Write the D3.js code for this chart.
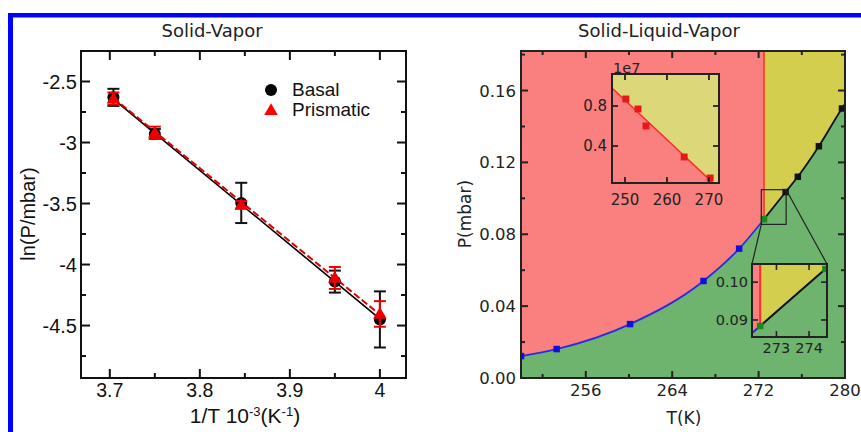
<!DOCTYPE html>
<html><head><meta charset="utf-8">
<script src="https://cdn.jsdelivr.net/npm/d3@7"></script>
<style>
html,body{margin:0;padding:0;background:#fff;}
svg{display:block;}
</style></head>
<body>
<svg id="c" width="861" height="432"></svg>
<script>
// ---------- Left panel data (Solid-Vapor) ----------
const invT = [3.704, 3.75, 3.846, 3.95, 4.0];
const basalLnP = [-2.63, -2.93, -3.495, -4.14, -4.45];
const basalErr = [0.07, 0.04, 0.165, 0.09, 0.23];
const prisLnP = [-2.64, -2.92, -3.51, -4.11, -4.405];
const prisErr = [0.05, 0.05, 0.03, 0.09, 0.105];
const basalFit = [[3.704, -2.645], [4.0, -4.445]];
const prisFit = [[3.704, -2.635], [4.0, -4.41]];
const leftXTicks = [3.7, 3.8, 3.9, 4];
const leftXMinor = [3.75, 3.85, 3.95];
const leftYTicks = [-2.5, -3, -3.5, -4, -4.5];
const leftYMinor = [-2.75, -3.25, -3.75, -4.25, -4.75];
const legendLabels = ["Basal", "Prismatic"];

// ---------- Right panel data (Solid-Liquid-Vapor) ----------
const svT = [250, 253.3, 260.1, 266.9, 270.2];
const svP = [0.0122, 0.0161, 0.030, 0.054, 0.072];
const tripleT = 272.5, tripleP = 0.0884;
const lvT = [274.5, 275.63, 277.58, 279.72];
const lvP = [0.1035, 0.112, 0.129, 0.150];
const lvEdge = [280, 0.1525];
const rightXTicks = [256, 264, 272, 280];
const rightXMinor = [252, 260, 268, 276];
const rightYTicks = [0, 0.04, 0.08, 0.12, 0.16];
const rightYMinor = [0.02, 0.06, 0.10, 0.14, 0.18];
// upper inset (solid-liquid, x1e7)
const slT = [250.2, 253.1, 255.0, 264.1, 270.3];
const slP = [0.87, 0.77, 0.60, 0.29, 0.08];
const slFit = [[246.9, 0.98], [271.0, 0.03]];
const insetXTicks = [250, 260, 270];
const insetYTicks = [0.4, 0.8];
// lower inset (zoom near triple point)
const zoomXTicks = [273, 274];
const zoomYTicks = [0.09, 0.10];

const svg = d3.select("#c");
const C = {red: "rgb(250,128,128)", yellow: "rgb(212,206,78)", yellowL: "rgb(220,216,122)",
  green: "rgb(110,180,110)", blue: "#2a2ae6", redLine: "#ff2a2a"};

// Blue frame
svg.append("rect").attr("x", 8).attr("y", 13).attr("width", 853).attr("height", 4.5).attr("fill", "#0000ff");
svg.append("rect").attr("x", 8).attr("y", 13).attr("width", 5).attr("height", 419).attr("fill", "#0000ff");

// ================= LEFT PANEL =================
const xL = d3.scaleLinear().domain([3.668, 4.029]).range([81, 406]);
const yL = d3.scaleLinear().domain([-4.93, -2.25]).range([378, 51]);
const L = svg.append("g");
const fontL = "'Liberation Sans', Arial, sans-serif";
const fontR = "'DejaVu Sans', sans-serif";

L.append("text").attr("x", 212).attr("y", 37).attr("text-anchor", "middle")
  .attr("font-family", fontR).attr("font-size", 18).attr("fill", "#222").text("Solid-Vapor");

function tickMarks(g, xs, ys, sx, sy, x0, x1, y0, y1, len, color, width) {
  xs.forEach(v => {
    g.append("line").attr("x1", sx(v)).attr("x2", sx(v)).attr("y1", y1).attr("y2", y1 - len).attr("stroke", color).attr("stroke-width", width);
    g.append("line").attr("x1", sx(v)).attr("x2", sx(v)).attr("y1", y0).attr("y2", y0 + len).attr("stroke", color).attr("stroke-width", width);
  });
  ys.forEach(v => {
    g.append("line").attr("y1", sy(v)).attr("y2", sy(v)).attr("x1", x0).attr("x2", x0 + len).attr("stroke", color).attr("stroke-width", width);
    g.append("line").attr("y1", sy(v)).attr("y2", sy(v)).attr("x1", x1).attr("x2", x1 - len).attr("stroke", color).attr("stroke-width", width);
  });
}
tickMarks(L, leftXTicks, leftYTicks, xL, yL, 81, 406, 51, 378, 9, "#111", 2);
tickMarks(L, leftXMinor, leftYMinor, xL, yL, 81, 406, 51, 378, 5, "#111", 2);

L.selectAll(".lxt").data(leftXTicks).join("text").attr("x", d => xL(d)).attr("y", 397)
  .attr("text-anchor", "middle").attr("font-family", fontL).attr("font-size", 19.5).attr("fill", "#111").text(d => d);
L.selectAll(".lyt").data(leftYTicks).join("text").attr("x", 77).attr("y", d => yL(d) + 7)
  .attr("text-anchor", "end").attr("font-family", fontL).attr("font-size", 20).attr("fill", "#111").text(d => d);

const xlab = L.append("text").attr("x", 245).attr("y", 423).attr("text-anchor", "middle")
  .attr("font-family", fontL).attr("font-size", 21).attr("fill", "#111");
xlab.append("tspan").text("1/T 10");
xlab.append("tspan").attr("dy", -7).attr("font-size", 13).text("-3");
xlab.append("tspan").attr("dy", 7).text("(K");
xlab.append("tspan").attr("dy", -7).attr("font-size", 13).text("-1");
xlab.append("tspan").attr("dy", 7).text(")");
L.append("text").attr("transform", "translate(35,214) rotate(-90)").attr("text-anchor", "middle")
  .attr("font-family", fontL).attr("font-size", 20).attr("fill", "#111").text("ln(P/mbar)");

const lineL = d3.line().x(d => xL(d[0])).y(d => yL(d[1]));
L.append("path").attr("d", lineL(basalFit)).attr("stroke", "#000").attr("stroke-width", 1.6).attr("fill", "none");
L.append("path").attr("d", lineL(prisFit)).attr("stroke", "#e00000").attr("stroke-width", 2).attr("stroke-dasharray", "7,3").attr("fill", "none");

function errBars(vals, errs, color) {
  invT.forEach((t, i) => {
    const x = xL(t), yt = yL(vals[i] + errs[i]), yb = yL(vals[i] - errs[i]);
    L.append("line").attr("x1", x).attr("x2", x).attr("y1", yt).attr("y2", yb).attr("stroke", color).attr("stroke-width", 2);
    [yt, yb].forEach(y => L.append("line").attr("x1", x - 6).attr("x2", x + 6).attr("y1", y).attr("y2", y).attr("stroke", color).attr("stroke-width", 2));
  });
}
errBars(basalLnP, basalErr, "#111");
L.selectAll(".bm").data(invT).join("circle").attr("cx", d => xL(d)).attr("cy", (d, i) => yL(basalLnP[i])).attr("r", 6).attr("fill", "#000");
errBars(prisLnP, prisErr, "#ee0000");
const tri = d3.symbol().type(d3.symbolTriangle).size(80);
L.selectAll(".pm").data(invT).join("path").attr("d", tri)
  .attr("transform", (d, i) => `translate(${xL(d)},${yL(prisLnP[i]) + 1})`).attr("fill", "#ee0000");

L.append("rect").attr("x", 81).attr("y", 51).attr("width", 325).attr("height", 327).attr("fill", "none").attr("stroke", "#111").attr("stroke-width", 2);

// legend
L.append("circle").attr("cx", 271).attr("cy", 90).attr("r", 6).attr("fill", "#000");
L.append("path").attr("d", tri).attr("transform", "translate(271,111)").attr("fill", "#ff0000");
L.selectAll(".lg").data(legendLabels).join("text").attr("x", 292).attr("y", (d, i) => 96 + i * 20)
  .attr("font-family", fontL).attr("font-size", 19).attr("fill", "#111").text(d => d);

// ================= RIGHT PANEL =================
const xR = d3.scaleLinear().domain([250, 280]).range([521, 845]);
const yR = d3.scaleLinear().domain([0, 0.182]).range([378, 51]);
const R = svg.append("g");
R.append("text").attr("x", 659).attr("y", 37).attr("text-anchor", "middle")
  .attr("font-family", fontR).attr("font-size", 18).attr("fill", "#222").text("Solid-Liquid-Vapor");

const defs = svg.append("defs");
defs.append("clipPath").attr("id", "clipR").append("rect").attr("x", 521).attr("y", 51).attr("width", 324).attr("height", 327);

const svPts = svT.map((t, i) => [t, svP[i]]).concat([[tripleT, tripleP]]);
const lvPts = [[tripleT, tripleP]].concat(lvT.map((t, i) => [t, lvP[i]])).concat([lvEdge]);
const cv = d3.curveMonotoneX;

const P = R.append("g").attr("clip-path", "url(#clipR)");
P.append("rect").attr("x", 521).attr("y", 51).attr("width", 324).attr("height", 327).attr("fill", C.green);
P.append("path").attr("d", d3.area().x(d => xR(d[0])).y0(yR(0.2)).y1(d => yR(d[1])).curve(cv)(svPts)).attr("fill", C.red);
P.append("path").attr("d", d3.area().x(d => xR(d[0])).y0(yR(0.2)).y1(d => yR(d[1])).curve(cv)(lvPts)).attr("fill", C.yellow);
P.append("line").attr("x1", xR(tripleT)).attr("x2", xR(tripleT)).attr("y1", yR(tripleP)).attr("y2", 51).attr("stroke", C.redLine).attr("stroke-width", 1.5);
P.append("path").attr("d", d3.line().x(d => xR(d[0])).y(d => yR(d[1])).curve(cv)(svPts)).attr("fill", "none").attr("stroke", C.blue).attr("stroke-width", 1.8);
P.append("path").attr("d", d3.line().x(d => xR(d[0])).y(d => yR(d[1])).curve(cv)(lvPts)).attr("fill", "none").attr("stroke", "#111").attr("stroke-width", 1.8);
const sq = d3.symbol().type(d3.symbolSquare).size(42);
P.selectAll(".svs").data(svPts.slice(0, -1)).join("path").attr("d", sq).attr("transform", d => `translate(${xR(d[0])},${yR(d[1])})`).attr("fill", "#1010dd");
P.selectAll(".lvs").data(lvPts.slice(1, -1)).join("path").attr("d", sq).attr("transform", d => `translate(${xR(d[0])},${yR(d[1])})`).attr("fill", "#111");
P.append("path").attr("d", sq).attr("transform", `translate(${xR(tripleT)},${yR(tripleP)})`).attr("fill", "#1a8a1a");

tickMarks(R, rightXTicks, rightYTicks, xR, yR, 521, 845, 51, 378, 7, "#222", 2);
tickMarks(R, rightXMinor, rightYMinor.filter(v => v < 0.182), xR, yR, 521, 845, 51, 378, 4, "#222", 2);

R.selectAll(".rxt").data(rightXTicks).join("text").attr("x", d => xR(d)).attr("y", 396)
  .attr("text-anchor", "middle").attr("font-family", fontR).attr("font-size", 16.5).attr("fill", "#222").text(d => d);
R.selectAll(".ryt").data(rightYTicks).join("text").attr("x", 516).attr("y", d => yR(d) + 6)
  .attr("text-anchor", "end").attr("font-family", fontR).attr("font-size", 16.5).attr("fill", "#222").text(d => d.toFixed(2));
R.append("text").attr("x", 684).attr("y", 424).attr("text-anchor", "middle").attr("font-family", fontR).attr("font-size", 17).attr("fill", "#222").text("T(K)");
R.append("text").attr("transform", "translate(471,214) rotate(-90)").attr("text-anchor", "middle")
  .attr("font-family", fontR).attr("font-size", 17).attr("fill", "#222").text("P(mbar)");

// ---- lower inset (zoom) ----
const zx = [752, 827], zy = [264, 337];
const xZ = d3.scaleLinear().domain([272.25, 274.55]).range(zx);
const yZ = d3.scaleLinear().domain([0.0855, 0.1048]).range([zy[1], zy[0]]);
const rx0 = xR(xZ.domain()[0]), rx1 = xR(xZ.domain()[1]), ry0 = yR(yZ.domain()[1]), ry1 = yR(yZ.domain()[0]);
R.append("rect").attr("x", rx0).attr("y", ry0).attr("width", rx1 - rx0).attr("height", ry1 - ry0).attr("fill", "none").attr("stroke", "#222").attr("stroke-width", 1.2);
R.append("line").attr("x1", rx1).attr("y1", ry0).attr("x2", zx[1]).attr("y2", zy[0]).attr("stroke", "#222").attr("stroke-width", 1.2);
R.append("line").attr("x1", rx0).attr("y1", ry1).attr("x2", zx[0]).attr("y2", zy[0]).attr("stroke", "#222").attr("stroke-width", 1.2);

defs.append("clipPath").attr("id", "clipZ").append("rect").attr("x", zx[0]).attr("y", zy[0]).attr("width", zx[1] - zx[0]).attr("height", zy[1] - zy[0]);
const Z = R.append("g").attr("clip-path", "url(#clipZ)");
Z.append("rect").attr("x", zx[0]).attr("y", zy[0]).attr("width", zx[1] - zx[0]).attr("height", zy[1] - zy[0]).attr("fill", C.green);
Z.append("path").attr("d", d3.area().x(d => xZ(d[0])).y0(0).y1(d => yZ(d[1])).curve(cv)(svPts)).attr("fill", C.red);
Z.append("path").attr("d", d3.area().x(d => xZ(d[0])).y0(0).y1(d => yZ(d[1])).curve(cv)(lvPts)).attr("fill", C.yellow);
Z.append("line").attr("x1", xZ(tripleT)).attr("x2", xZ(tripleT)).attr("y1", yZ(tripleP)).attr("y2", zy[0]).attr("stroke", C.redLine).attr("stroke-width", 2);
Z.append("path").attr("d", d3.line().x(d => xZ(d[0])).y(d => yZ(d[1])).curve(cv)(svPts)).attr("fill", "none").attr("stroke", C.blue).attr("stroke-width", 2);
Z.append("path").attr("d", d3.line().x(d => xZ(d[0])).y(d => yZ(d[1])).curve(cv)(lvPts)).attr("fill", "none").attr("stroke", "#111").attr("stroke-width", 2);
Z.selectAll(".zs").data([[tripleT, tripleP], [lvT[0], lvP[0]]]).join("path").attr("d", sq)
  .attr("transform", d => `translate(${xZ(d[0])},${yZ(d[1])})`).attr("fill", "#1a8a1a");
tickMarks(R, zoomXTicks, zoomYTicks, xZ, yZ, zx[0], zx[1], zy[0], zy[1], 6, "#222", 1.6);
R.append("rect").attr("x", zx[0]).attr("y", zy[0]).attr("width", zx[1] - zx[0]).attr("height", zy[1] - zy[0]).attr("fill", "none").attr("stroke", "#222").attr("stroke-width", 2);
R.selectAll(".zxt").data(zoomXTicks).join("text").attr("x", d => xZ(d)).attr("y", 353)
  .attr("text-anchor", "middle").attr("font-family", fontR).attr("font-size", 14.5).attr("fill", "#222").text(d => d);
R.selectAll(".zyt").data(zoomYTicks).join("text").attr("x", 748).attr("y", d => yZ(d) + 5)
  .attr("text-anchor", "end").attr("font-family", fontR).attr("font-size", 14.5).attr("fill", "#222").text(d => d.toFixed(2));

// ---- upper inset (solid-liquid) ----
const ix = [612, 719], iy = [74, 183];
const xI = d3.scaleLinear().domain([246.9, 272.4]).range(ix);
const yI = d3.scaleLinear().domain([0.03, 1.12]).range([iy[1], iy[0]]);
defs.append("clipPath").attr("id", "clipI").append("rect").attr("x", ix[0]).attr("y", iy[0]).attr("width", ix[1] - ix[0]).attr("height", iy[1] - iy[0]);
const I = R.append("g").attr("clip-path", "url(#clipI)");
I.append("rect").attr("x", ix[0]).attr("y", iy[0]).attr("width", ix[1] - ix[0]).attr("height", iy[1] - iy[0]).attr("fill", C.yellowL);
const fitExt = slFit.concat([[xI.domain()[1], slFit[1][1]]]);
I.append("path").attr("d", d3.area().x(d => xI(d[0])).y0(iy[1] + 5).y1(d => yI(d[1]))(fitExt)).attr("fill", C.red);
I.append("path").attr("d", d3.line().x(d => xI(d[0])).y(d => yI(d[1]))(slFit)).attr("fill", "none").attr("stroke", C.redLine).attr("stroke-width", 1.6);
I.selectAll(".is").data(slT).join("path").attr("d", d3.symbol().type(d3.symbolSquare).size(48))
  .attr("transform", (d, i) => `translate(${xI(d)},${yI(slP[i])})`).attr("fill", "#e81818");
tickMarks(R, insetXTicks, insetYTicks, xI, yI, ix[0], ix[1], iy[0], iy[1], 6, "#222", 1.8);
R.append("rect").attr("x", ix[0]).attr("y", iy[0]).attr("width", ix[1] - ix[0]).attr("height", iy[1] - iy[0]).attr("fill", "none").attr("stroke", "#222").attr("stroke-width", 2);
R.selectAll(".ixt").data(insetXTicks).join("text").attr("x", d => xI(d)).attr("y", 205)
  .attr("text-anchor", "middle").attr("font-family", fontR).attr("font-size", 15).attr("fill", "#222").text(d => d);
R.selectAll(".iyt").data(insetYTicks).join("text").attr("x", 607).attr("y", d => yI(d) + 5)
  .attr("text-anchor", "end").attr("font-family", fontR).attr("font-size", 15).attr("fill", "#222").text(d => d.toFixed(1));
R.append("text").attr("x", 613).attr("y", 73).attr("font-family", fontR).attr("font-size", 14.5).attr("fill", "#222").text("1e7");

R.append("rect").attr("x", 521).attr("y", 51).attr("width", 324).attr("height", 327).attr("fill", "none").attr("stroke", "#222").attr("stroke-width", 2);
</script>
</body></html>
